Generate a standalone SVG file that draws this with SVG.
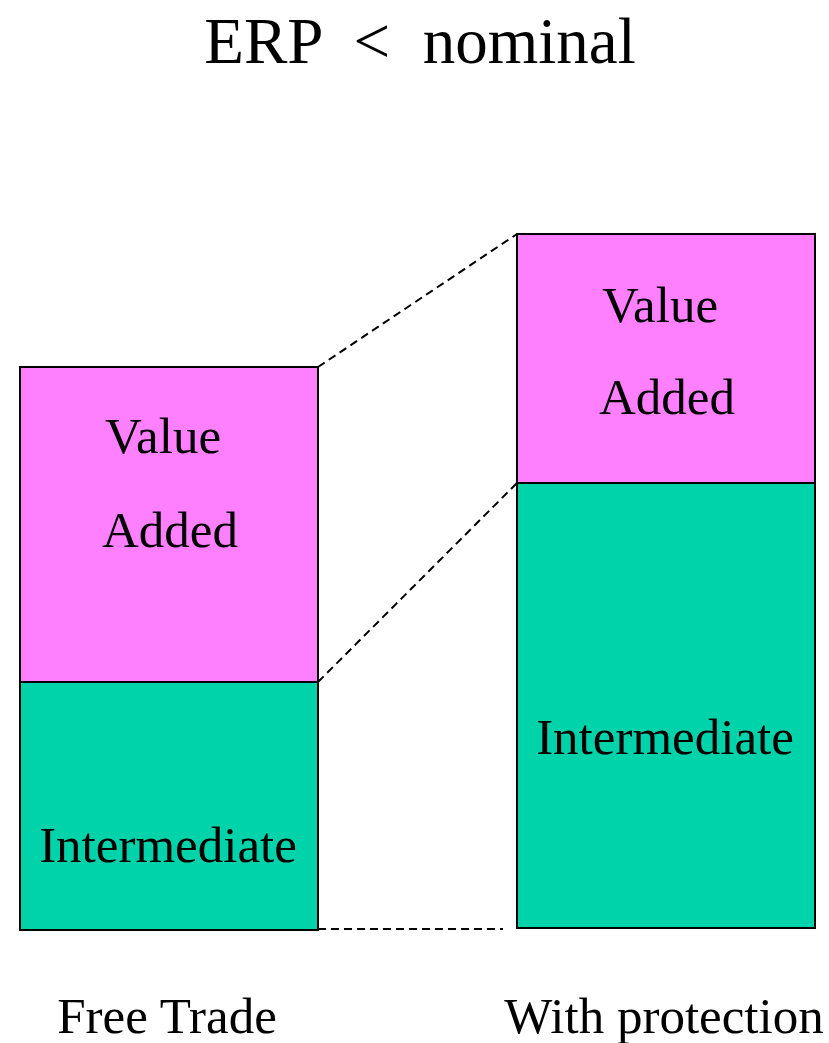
<svg xmlns="http://www.w3.org/2000/svg" width="829" height="1043" viewBox="0 0 829 1043">
  <style>
    text { font-family: "Liberation Serif", "Times New Roman", serif; fill: #000; }
    .lbl { font-size: 51px; text-anchor: middle; }
    .title { font-size: 65px; text-anchor: middle; }
    .va { fill: #FF80FF; stroke: #000; stroke-width: 2; }
    .im { fill: #00D2AA; stroke: #000; stroke-width: 2; }
    .dash { stroke: #000; stroke-width: 2; stroke-dasharray: 8 5; fill: none; }
  </style>
  <rect width="829" height="1043" fill="#fff"/>

  <text class="title" x="420" y="63" xml:space="preserve">ERP  &lt;  nominal</text>

  <g id="connectors">
    <line class="dash" x1="318" y1="367" x2="517" y2="234"/>
    <line class="dash" x1="318" y1="682" x2="517" y2="483"/>
    <line class="dash" x1="318" y1="929" x2="503" y2="929"/>
  </g>

  <g id="free-trade">
    <rect class="va" x="20" y="367" width="298" height="315"/>
    <rect class="im" x="20" y="682" width="298" height="248"/>
    <text class="lbl" x="163" y="453">Value</text>
    <text class="lbl" x="170" y="547">Added</text>
    <text class="lbl" x="168" y="862">Intermediate</text>
    <text class="lbl" x="167" y="1033">Free Trade</text>
  </g>

  <g id="with-protection">
    <rect class="va" x="517" y="234" width="298" height="249"/>
    <rect class="im" x="517" y="483" width="298" height="445"/>
    <text class="lbl" x="660" y="322">Value</text>
    <text class="lbl" x="667" y="414">Added</text>
    <text class="lbl" x="665" y="754">Intermediate</text>
    <text class="lbl" x="664" y="1033">With protection</text>
  </g>
</svg>
